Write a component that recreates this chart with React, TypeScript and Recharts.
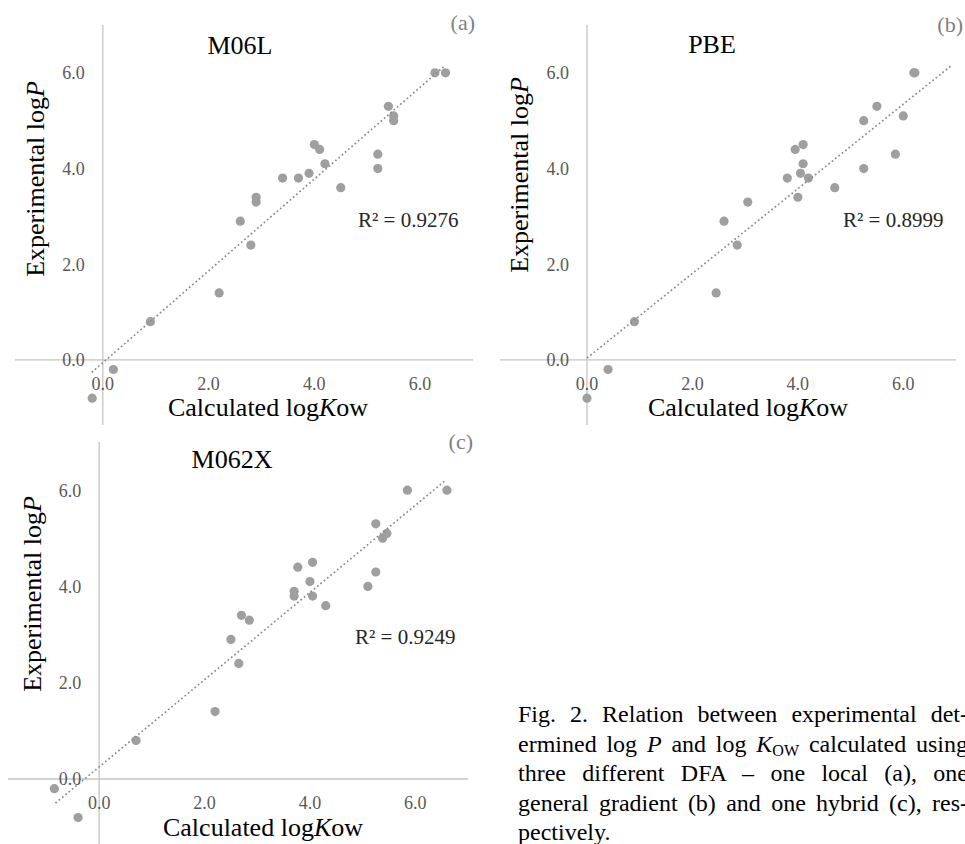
import React from 'react';
import { ScatterChart, Scatter, XAxis, YAxis, ReferenceLine, ReferenceDot } from 'recharts';

const FONT = '"Liberation Serif", "Times New Roman", Times, serif';

// Panel (a) M06L
const m06lCalc = [-0.2, 0.2, 0.9, 2.2, 2.6, 2.8, 2.9, 2.9, 3.4, 3.7, 3.9, 4.0, 4.1, 4.2, 4.5, 5.2, 5.2, 5.4, 5.5, 5.5, 6.28, 6.48];
const m06lExp = [-0.8, -0.2, 0.8, 1.4, 2.9, 2.4, 3.4, 3.3, 3.8, 3.8, 3.9, 4.5, 4.4, 4.1, 3.6, 4.3, 4.0, 5.3, 5.1, 5.0, 6.0, 6.0];
// trendline ends
const m06lTrendX = [-0.21, 6.45];
const m06lTrendY = [-0.26, 6.13];

// Panel (b) PBE
const pbeCalc = [0.0, 0.4, 0.9, 2.45, 2.6, 2.85, 3.05, 3.8, 3.95, 4.1, 4.05, 4.1, 4.2, 4.0, 4.7, 5.25, 5.25, 5.5, 6.0, 5.85, 6.2, 6.22];
const pbeExp = [-0.8, -0.2, 0.8, 1.4, 2.9, 2.4, 3.3, 3.8, 4.4, 4.5, 3.9, 4.1, 3.8, 3.4, 3.6, 5.0, 4.0, 5.3, 5.1, 4.3, 6.0, 6.0];
const pbeTrendX = [0.0, 6.91];
const pbeTrendY = [0.04, 6.15];

// Panel (c) M062X
const m062xCalc = [-0.85, -0.4, 0.7, 2.2, 2.5, 2.65, 2.7, 2.85, 3.7, 3.7, 3.77, 4.05, 4.0, 4.05, 4.3, 5.1, 5.25, 5.25, 5.38, 5.46, 5.85, 6.6];
const m062xExp = [-0.2, -0.8, 0.8, 1.4, 2.9, 2.4, 3.4, 3.3, 3.9, 3.8, 4.4, 4.5, 4.1, 3.8, 3.6, 4.0, 4.3, 5.3, 5.0, 5.1, 6.0, 6.0];
const m062xTrendX = [-0.83, 6.57];
const m062xTrendY = [-0.5, 6.2];

const axisTicks = [0, 2, 4, 6];
const tickLabels = ['0.0', '2.0', '4.0', '6.0'];

const panelTitles = ['M06L', 'PBE', 'M062X'];
const panelLetters = ['(a)', '(b)', '(c)'];
const r2Labels = ['R² = 0.9276', 'R² = 0.8999', 'R² = 0.9249'];

const Dot = (props: any) => {
  const { cx, cy } = props;
  if (cx == null || cy == null) return <g />;
  return <circle cx={cx} cy={cy} r={4.6} fill="#9f9f9f" />;
};

const NoShape = () => <g />;

type PanelProps = {
  calc: number[];
  exp: number[];
  trendX: number[];
  trendY: number[];
  xDomain: [number, number];
  yDomain: [number, number];
  width: number;
  height: number;
  margin: { top: number; right: number; bottom: number; left: number };
};

function Panel({ calc, exp, trendX, trendY, xDomain, yDomain, width, height, margin }: PanelProps) {
  const pts = calc.map((x, i) => ({ x, y: exp[i] }));
  const trend = trendX.map((x, i) => ({ x, y: trendY[i] }));
  const tickStyle = { fill: '#595959', fontSize: 18, fontFamily: FONT };
  return (
    <ScatterChart width={width} height={height} margin={margin}>
      <XAxis type="number" dataKey="x" domain={xDomain} hide allowDataOverflow />
      <YAxis type="number" dataKey="y" domain={yDomain} hide allowDataOverflow />
      <ReferenceLine y={0} stroke="#c4c4c4" strokeWidth={1.3} />
      <ReferenceLine x={0} stroke="#c4c4c4" strokeWidth={1.3} />
      {axisTicks.map((t, i) => (
        <ReferenceDot
          key={'xt' + t}
          x={t}
          y={0}
          r={0}
          fill="none"
          stroke="none"
          label={{ value: tickLabels[i], position: 'bottom', offset: 17, ...tickStyle }}
        />
      ))}
      {axisTicks.map((t, i) => (
        <ReferenceDot
          key={'yt' + t}
          x={0}
          y={t}
          r={0}
          fill="none"
          stroke="none"
          label={{ value: tickLabels[i], position: 'left', offset: 18, ...tickStyle }}
        />
      ))}
      <Scatter data={pts} shape={Dot} isAnimationActive={false} />
      <Scatter
        data={trend}
        shape={NoShape}
        line={{ stroke: '#8a8a8a', strokeWidth: 1.7, strokeDasharray: '1.7 2.6' }}
        isAnimationActive={false}
      />
    </ScatterChart>
  );
}

const TitleText = ({ x, y, children }: any) => (
  <text x={x} y={y} textAnchor="middle" fontSize={26} fontFamily={FONT} fill="#000">
    {children}
  </text>
);

const XTitle = ({ x, y }: any) => (
  <text x={x} y={y} textAnchor="middle" fontSize={26} fontFamily={FONT} fill="#000">
    Calculated log<tspan fontStyle="italic">K</tspan>ow
  </text>
);

const YTitle = ({ x, y }: any) => (
  <text
    transform={`translate(${x},${y}) rotate(-90)`}
    textAnchor="middle"
    fontSize={26}
    fontFamily={FONT}
    fill="#000"
  >
    Experimental log<tspan fontStyle="italic">P</tspan>
  </text>
);

const Letter = ({ x, y, children }: any) => (
  <text x={x} y={y} textAnchor="end" fontSize={22} fontFamily={FONT} fill="#7f7f7f">
    {children}
  </text>
);

const R2 = ({ x, y, children }: any) => (
  <text x={x} y={y} textAnchor="start" fontSize={21} fontFamily={FONT} fill="#262626">
    {children}
  </text>
);

const lineStyle: React.CSSProperties = {
  textAlign: 'justify',
  textAlignLast: 'justify',
  whiteSpace: 'normal',
};

export default function App() {
  return (
    <div
      style={{
        position: 'absolute',
        left: 0,
        top: 0,
        width: 965,
        height: 844,
        overflow: 'hidden',
        background: '#fff',
        fontFamily: FONT,
      }}
    >
      <div style={{ position: 'absolute', left: 0, top: 0 }}>
        <Panel
          calc={m06lCalc}
          exp={m06lExp}
          trendX={m06lTrendX}
          trendY={m06lTrendY}
          xDomain={[-1.66, 7]}
          yDomain={[-1.36, 7]}
          width={480}
          height={430}
          margin={{ top: 25, left: 15, right: 7, bottom: 5 }}
        />
      </div>
      <div style={{ position: 'absolute', left: 480, top: 0 }}>
        <Panel
          calc={pbeCalc}
          exp={pbeExp}
          trendX={pbeTrendX}
          trendY={pbeTrendY}
          xDomain={[-1.65, 7]}
          yDomain={[-1.36, 7]}
          width={480}
          height={430}
          margin={{ top: 25, left: 20, right: 4, bottom: 5 }}
        />
      </div>
      <div style={{ position: 'absolute', left: 0, top: 436 }}>
        <Panel
          calc={m062xCalc}
          exp={m062xExp}
          trendX={m062xTrendX}
          trendY={m062xTrendY}
          xDomain={[-1.73, 7]}
          yDomain={[-1.35, 7]}
          width={480}
          height={408}
          margin={{ top: 6, left: 8, right: 12, bottom: 0 }}
        />
      </div>

      <svg
        width={965}
        height={844}
        style={{ position: 'absolute', left: 0, top: 0, pointerEvents: 'none' }}
      >
        <TitleText x={240} y={54}>{panelTitles[0]}</TitleText>
        <TitleText x={712} y={53}>{panelTitles[1]}</TitleText>
        <TitleText x={232} y={468}>{panelTitles[2]}</TitleText>

        <Letter x={475} y={30}>{panelLetters[0]}</Letter>
        <Letter x={963} y={32}>{panelLetters[1]}</Letter>
        <Letter x={473} y={449}>{panelLetters[2]}</Letter>

        <R2 x={358} y={227}>{r2Labels[0]}</R2>
        <R2 x={843} y={227}>{r2Labels[1]}</R2>
        <R2 x={355} y={644}>{r2Labels[2]}</R2>

        <XTitle x={268} y={416} />
        <XTitle x={748} y={416} />
        <XTitle x={263} y={836} />

        <YTitle x={44} y={179} />
        <YTitle x={528} y={175} />
        <YTitle x={41} y={594} />
      </svg>

      <div
        style={{
          position: 'absolute',
          left: 518,
          top: 700,
          width: 450,
          fontSize: 24,
          lineHeight: '29.5px',
          color: '#000',
          fontFamily: FONT,
        }}
      >
        <div style={lineStyle}>Fig. 2. Relation between experimental det-</div>
        <div style={lineStyle}>
          ermined log <i>P</i> and log <i>K</i>
          <span style={{ fontSize: '0.67em', position: 'relative', top: '0.25em', lineHeight: 0 }}>OW</span>{' '}
          calculated using
        </div>
        <div style={lineStyle}>three different DFA – one local (a), one</div>
        <div style={lineStyle}>general gradient (b) and one hybrid (c), res-</div>
        <div style={{ textAlign: 'left' }}>pectively.</div>
      </div>
    </div>
  );
}
